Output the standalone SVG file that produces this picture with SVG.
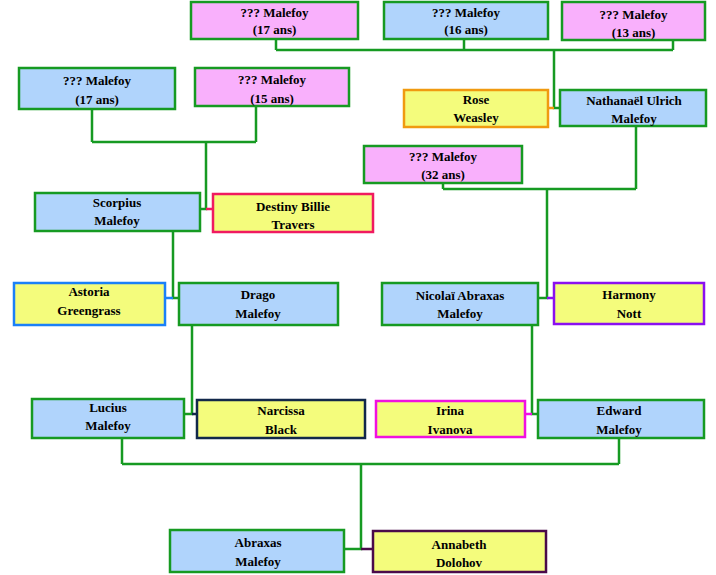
<svg xmlns="http://www.w3.org/2000/svg" width="716" height="575" viewBox="0 0 716 575">
<style>
rect{stroke-width:2.5}
.b{fill:#b0d4fc;stroke:#169a22}
.p{fill:#f9b0fc;stroke:#169a22}
.y{fill:#f4fc7c}
text{font-family:"Liberation Serif","DejaVu Serif",serif;font-size:13px;font-weight:bold;text-anchor:middle;fill:#000}
#connectors path{fill:none;stroke:#169a22;stroke-width:2.5}
</style>
<rect width="716" height="575" fill="#fff"/>
<g id="connectors">
<path d="M276 39V50M464 39V50M673 40V50M276 50H673M554 50V108H560"/>
<path d="M92 109V142M256 106V142M92 142H256M206 142V209H200"/>
<path d="M443 183V189M636 126V189M443 189H636M547 189V298H538"/>
<path d="M173 231V298H179"/>
<path d="M192 325V414H184"/>
<path d="M532 325V414H538"/>
<path d="M122 438V464M619 438V464M122 464H619M361 464V549H344"/>
<path d="M548 108H554" style="stroke:#f09a10"/>
<path d="M206 209H213" style="stroke:#f01a60"/>
<path d="M165 298H173" style="stroke:#1a80f8"/>
<path d="M547 298H554" style="stroke:#8a10f0"/>
<path d="M192 414H197" style="stroke:#12284a"/>
<path d="M525 414H532" style="stroke:#f010e0"/>
<path d="M361 549H373" style="stroke:#4a0a4a"/>
</g>
<g id="n1"><rect class="p" x="191" y="2" width="167" height="37"/><text x="274.5" y="17">??? Malefoy</text><text x="274.5" y="34">(17 ans)</text></g>
<g id="n2"><rect class="b" x="384" y="2" width="164" height="37"/><text x="466" y="17">??? Malefoy</text><text x="466" y="34">(16 ans)</text></g>
<g id="n3"><rect class="p" x="562" y="2" width="143" height="38"/><text x="633.5" y="19">??? Malefoy</text><text x="633.5" y="37">(13 ans)</text></g>
<g id="n4"><rect class="b" x="19" y="68" width="156" height="41"/><text x="97" y="85">??? Malefoy</text><text x="97" y="104">(17 ans)</text></g>
<g id="n5"><rect class="p" x="195" y="68" width="154" height="38"/><text x="272" y="84">??? Malefoy</text><text x="272" y="103">(15 ans)</text></g>
<g id="n6"><rect class="y" x="404" y="90" width="144" height="37" style="stroke:#f09a10"/><text x="476" y="104">Rose</text><text x="476" y="122">Weasley</text></g>
<g id="n7"><rect class="b" x="560" y="90" width="146" height="36" style="fill:#b0d4fc"/><text x="634" y="105">Nathanaël Ulrich</text><text x="634" y="123">Malefoy</text></g>
<g id="n8"><rect class="p" x="364" y="146" width="158" height="37"/><text x="443" y="161">??? Malefoy</text><text x="443" y="179">(32 ans)</text></g>
<g id="n9"><rect class="b" x="35" y="193" width="165" height="38"/><text x="117" y="207">Scorpius</text><text x="117" y="225">Malefoy</text></g>
<g id="n10"><rect class="y" x="213" y="194" width="160" height="38" style="stroke:#f01a60"/><text x="293" y="211">Destiny Billie</text><text x="293" y="229">Travers</text></g>
<g id="n11"><rect class="y" x="14" y="283" width="151" height="42" style="stroke:#1a80f8"/><text x="89" y="296">Astoria</text><text x="89" y="315">Greengrass</text></g>
<g id="n12"><rect class="b" x="179" y="283" width="159" height="42"/><text x="258" y="299">Drago</text><text x="258" y="318">Malefoy</text></g>
<g id="n13"><rect class="b" x="382" y="283" width="156" height="42"/><text x="460" y="300">Nicolaï Abraxas</text><text x="460" y="318">Malefoy</text></g>
<g id="n14"><rect class="y" x="554" y="283" width="150" height="41" style="stroke:#8a10f0"/><text x="629" y="299">Harmony</text><text x="629" y="318">Nott</text></g>
<g id="n15"><rect class="b" x="32" y="399" width="152" height="39"/><text x="108" y="412">Lucius</text><text x="108" y="430">Malefoy</text></g>
<g id="n16"><rect class="y" x="197" y="400" width="168" height="38" style="stroke:#12284a"/><text x="281" y="415">Narcissa</text><text x="281" y="434">Black</text></g>
<g id="n17"><rect class="y" x="376" y="401" width="149" height="36" style="stroke:#f010e0"/><text x="450" y="415">Irina</text><text x="450" y="434">Ivanova</text></g>
<g id="n18"><rect class="b" x="538" y="400" width="166" height="38"/><text x="619" y="415">Edward</text><text x="619" y="434">Malefoy</text></g>
<g id="n19"><rect class="b" x="170" y="530" width="174" height="42"/><text x="258" y="547">Abraxas</text><text x="258" y="566">Malefoy</text></g>
<g id="n20"><rect class="y" x="373" y="531" width="173" height="41" style="stroke:#4a0a4a"/><text x="459" y="549">Annabeth</text><text x="459" y="567">Dolohov</text></g>
</svg>
